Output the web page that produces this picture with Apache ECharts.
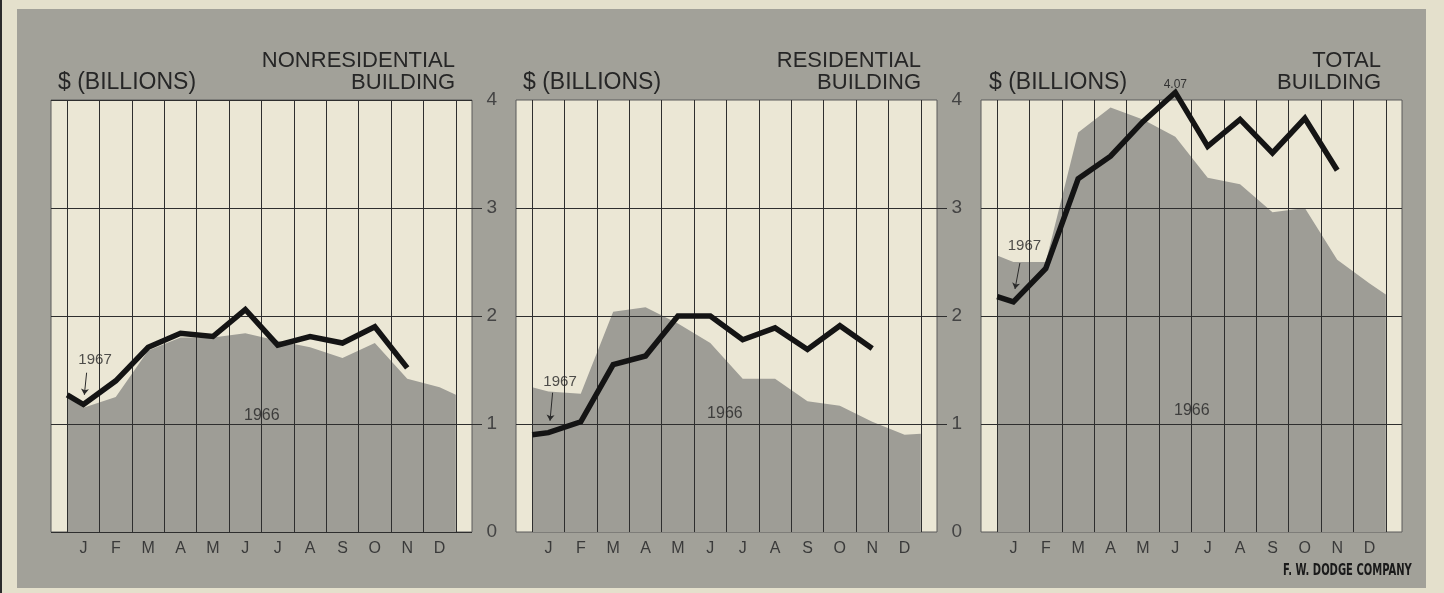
<!DOCTYPE html>
<html>
<head>
<meta charset="utf-8">
<script src="https://cdn.jsdelivr.net/npm/echarts@6/dist/echarts.min.js"></script>
<style>
  html, body { margin: 0; padding: 0; background: #e4e0cc; }
  #chart { width: 1444px; height: 593px; }
</style>
</head>
<body>
<div id="chart"></div>
<script>
// ---- data ($ billions) ----
const months = ['J', 'F', 'M', 'A', 'M', 'J', 'J', 'A', 'S', 'O', 'N', 'D'];
const yTicks = [0, 1, 2, 3, 4];
const panelTitles = ['NONRESIDENTIAL', 'RESIDENTIAL', 'TOTAL'];
const unitLabel = '$ (BILLIONS)';
const sourceLabel = 'F. W. DODGE COMPANY';

// 1966: value at the opening gridline, Jan..Dec, value at the closing gridline
const nonres1966 = [1.25, 1.15, 1.25, 1.68, 1.80, 1.80, 1.84, 1.77, 1.71, 1.61, 1.75, 1.42, 1.34, 1.27];
const res1966    = [1.34, 1.30, 1.28, 2.04, 2.08, 1.93, 1.75, 1.42, 1.42, 1.21, 1.17, 1.02, 0.90, 0.91];
const total1966  = [2.56, 2.50, 2.50, 3.70, 3.93, 3.82, 3.66, 3.28, 3.22, 2.96, 3.00, 2.52, 2.30, 2.20];

// 1967: value at the opening gridline, then Jan..Nov
const nonres1967 = [1.27, 1.18, 1.40, 1.71, 1.84, 1.81, 2.06, 1.73, 1.81, 1.75, 1.90, 1.52];
const res1967    = [0.90, 0.92, 1.02, 1.55, 1.63, 2.00, 2.00, 1.78, 1.89, 1.69, 1.91, 1.70];
const total1967  = [2.18, 2.13, 2.44, 3.27, 3.48, 3.80, 4.07, 3.57, 3.82, 3.51, 3.83, 3.35];

const panels = [
  { a: nonres1966, b: nonres1967, labelPeak: false },
  { a: res1966,    b: res1967,    labelPeak: false },
  { a: total1966,  b: total1967,  labelPeak: true }
];

// ---- styling / layout ----
const FONT = '"Liberation Sans", Arial, sans-serif';
const PAGE = '#e4e0cc';
const PANEL = '#a2a199';
const CREAM = '#ebe7d5';
const AREA = '#9e9d96';
const INK = '#141414';
const GRIDC = '#2e2e2e';
const PANEL_LEFT = [51, 516, 981];
const PANEL_W = 421;
const PANEL_TOP = 100;
const PANEL_H = 432;
const UNIT_X = [58, 523, 989];
const TITLE_R = [455, 921, 1381];

// months sit at integer x; gridlines fall half-way between them
const areaPoints = vals => vals.map((v, i) =>
  [i === 0 ? -0.5 : (i === vals.length - 1 ? 11.5 : i - 1), v]);
const linePoints = (vals, labelPeak) => {
  const peak = Math.max(...vals);
  return vals.map((v, i) => {
    const item = { value: [i === 0 ? -0.5 : i - 1, v] };
    if (labelPeak && v === peak) {
      item.label = { show: true, position: 'top', distance: 2, formatter: p => p.value[1].toFixed(2),
                     fontSize: 12, color: '#333', fontFamily: FONT };
    }
    return item;
  });
};

// annotation placements in data space, per panel
const note1966 = [[5.51, 1.08], [5.45, 1.10], [5.51, 1.12]];
const note1967 = [[0.36, 1.59], [0.36, 1.39], [0.34, 2.645]];
const arrow1967 = [
  [[0.10, 1.475], [0.03, 1.27]],
  [[0.13, 1.29], [0.05, 1.03]],
  [[0.20, 2.49], [0.05, 2.25]]
];

const grid = PANEL_LEFT.map(l => ({
  left: l, top: PANEL_TOP, width: PANEL_W, height: PANEL_H,
  show: true, backgroundColor: CREAM, borderColor: '#5a5a5a', borderWidth: 1
}));

const xAxis = PANEL_LEFT.map((_, i) => ({
  gridIndex: i, type: 'value', min: -1, max: 12, interval: 1, z: 3,
  axisLine: { show: false }, axisTick: { show: false }, splitLine: { show: false },
  minorTick: { show: false, splitNumber: 2 },
  minorSplitLine: { show: true, lineStyle: { color: GRIDC, width: 1 } },
  axisLabel: {
    formatter: v => months[v] || '', color: '#3a3a3a', fontSize: 16,
    margin: 9, fontFamily: FONT
  }
}));

const yAxis = PANEL_LEFT.map((_, i) => ({
  gridIndex: i, type: 'value', min: yTicks[0], max: yTicks[yTicks.length - 1], interval: 1, z: 3,
  position: 'left',
  axisLine: { show: false },
  axisTick: i > 0 ? { show: true, length: 9, customValues: [1, 2, 3], lineStyle: { color: GRIDC } } : { show: false },
  axisLabel: i > 0 ? { show: true, margin: 19, fontSize: 19, color: '#444', fontFamily: FONT } : { show: false },
  splitLine: { show: true, lineStyle: { color: GRIDC, width: 1 } }
}));
// short outward ticks on the inner right edges
[0, 1].forEach(i => yAxis.push({
  gridIndex: i, type: 'value', min: 0, max: 4, interval: 1, z: 3, position: 'right',
  axisLine: { show: false }, axisLabel: { show: false }, splitLine: { show: false },
  axisTick: { show: true, length: 10, customValues: [1, 2, 3], lineStyle: { color: GRIDC } }
}));

const series = [];
panels.forEach((p, i) => {
  series.push({
    name: '1966', type: 'line', xAxisIndex: i, yAxisIndex: i,
    data: areaPoints(p.a), symbol: 'none', silent: true, z: 2,
    lineStyle: { width: 0 }, areaStyle: { color: AREA, opacity: 1 }
  });
  series.push({
    name: '1967', type: 'line', xAxisIndex: i, yAxisIndex: i,
    data: linePoints(p.b, p.labelPeak), symbol: 'circle', symbolSize: 0, silent: true, z: 4, clip: false,
    lineStyle: { color: INK, width: 5.5, join: 'miter', cap: 'butt' }
  });
  series.push({
    type: 'scatter', xAxisIndex: i, yAxisIndex: i, symbolSize: 0, silent: true, z: 5,
    data: [
      { value: note1966[i], label: { formatter: '1966', fontSize: 16 } },
      { value: note1967[i], label: { formatter: '1967', fontSize: 15 } }
    ],
    label: { show: true, position: 'inside', color: '#262626', fontFamily: FONT },
    markLine: {
      silent: true, symbol: ['none', 'arrow'], symbolSize: 6,
      lineStyle: { color: '#2a2a2a', width: 1, type: 'solid' },
      label: { show: false },
      data: [[{ coord: arrow1967[i][0] }, { coord: arrow1967[i][1] }]]
    }
  });
});

const graphic = [
  { type: 'rect', z: -10, shape: { x: 17, y: 9, width: 1409, height: 579 }, style: { fill: PANEL } },
  { type: 'rect', z: -10, shape: { x: 0, y: 0, width: 2, height: 593 }, style: { fill: '#2b2b2b' } }
];
panelTitles.forEach((t, i) => {
  graphic.push({ type: 'text', z: 10, x: UNIT_X[i], y: 83,
    style: { text: unitLabel, font: '23px ' + FONT, fill: '#262626', align: 'left', verticalAlign: 'middle' } });
  graphic.push({ type: 'text', z: 10, x: TITLE_R[i], y: 61,
    style: { text: t, font: '22px ' + FONT, fill: '#262626', align: 'right', verticalAlign: 'middle' } });
  graphic.push({ type: 'text', z: 10, x: TITLE_R[i], y: 83,
    style: { text: 'BUILDING', font: '22px ' + FONT, fill: '#262626', align: 'right', verticalAlign: 'middle' } });
});
graphic.push({ type: 'text', z: 10, x: 1283, y: 571, scaleX: 0.74,
  style: { text: sourceLabel, font: 'bold 15px "DejaVu Sans Condensed", "DejaVu Sans", sans-serif',
           fill: '#1a1a1a', align: 'left', verticalAlign: 'middle' } });

const chart = echarts.init(document.getElementById('chart'), null, { renderer: 'canvas' });
chart.setOption({
  backgroundColor: PAGE,
  animation: false,
  textStyle: { fontFamily: FONT },
  grid, xAxis, yAxis, series, graphic
});
</script>
</body>
</html>
